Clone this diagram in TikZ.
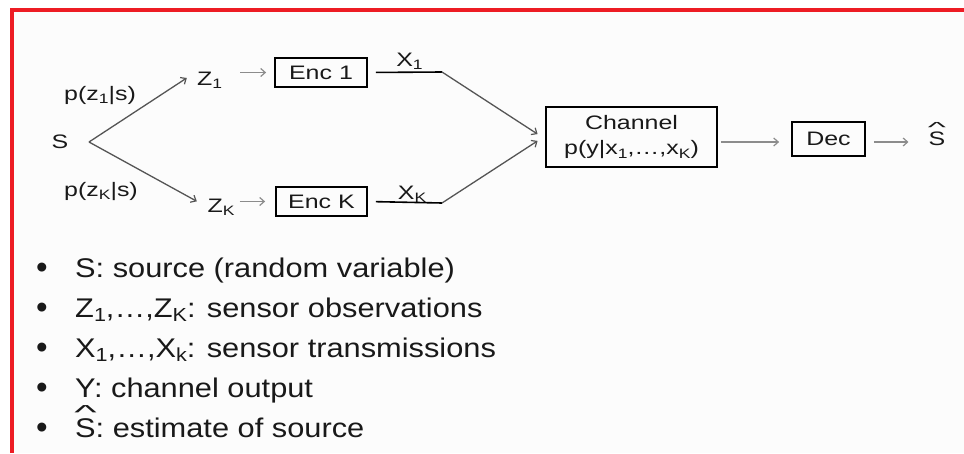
\documentclass[tikz,border=0pt]{standalone}
\usepackage{fontspec}
\setmainfont{Liberation Sans}
\usepackage{graphicx}
\usetikzlibrary{arrows.meta}

\definecolor{framered}{RGB}{237,28,36}
\definecolor{ink}{RGB}{25,25,25}
\definecolor{wire}{RGB}{85,85,85}
\definecolor{feed}{RGB}{140,140,140}
\definecolor{paper}{RGB}{252,252,252}

% widened lettering of the figure and of the list
\newcommand{\hsd}[1]{\scalebox{1.28}[1]{#1}}
\newcommand{\hsl}[1]{\scalebox{1.14}[1]{#1}}
% lowered small index
\newcommand{\lsub}[1]{\raisebox{-0.35ex}{\scalebox{0.7}{#1}}}
% S with a wide hat (estimate)
\newcommand{\hatS}{\makebox[0pt][l]{\hspace{-0.03em}\raisebox{0.66em}{\scalebox{1.55}[0.75]{\textasciicircum}}}S}

\begin{document}
\begin{tikzpicture}[x=1pt,y=-1pt,
  lbl/.style={inner sep=0pt, anchor=base, text=ink,
              font=\fontsize{19.5}{26}\selectfont},
  blk/.style={draw=black, line width=1.8pt, inner sep=0pt, text=ink,
              align=center, font=\fontsize{19.5}{26}\selectfont},
  item/.style={inner sep=0pt, anchor=base west, text=ink,
               font=\fontsize{27}{32}\selectfont},
  dot/.style={inner sep=0pt, anchor=base, text=ink,
              font=\fontsize{33}{34}\selectfont},
  tip/.style={-{Straight Barb[length=4.5pt,width=8pt,line width=1.2pt]}},
  branch/.style={tip, draw=wire, line width=1.3pt},
  feedarr/.style={tip, draw=feed, line width=1.8pt},
  link/.style={draw=black, line width=1.6pt},
  linkdiag/.style={tip, draw=wire, line width=1.3pt},
]
\useasboundingbox (0,0) rectangle (964,453);

% page and red frame
\fill[white] (0,0) rectangle (964,453);
\fill[paper] (12,10) rectangle (964,453);
\draw[framered, line width=3.5pt, line join=miter] (11.75,453) -- (11.75,9.75) -- (964,9.75);

% source and its two observations
\node[lbl] (s) at (60,148) {\hsd{S}};
\coordinate (fork) at (89,142);
\node[lbl] (p1) at (100,100) {\hsd{p(z\lsub{1}|s)}};
\node[lbl] (pk) at (101,196) {\hsd{p(z\lsub{K}|s)}};
\node[lbl] (z1) at (209.5,85) {\hsd{Z\lsub{1}}};
\node[lbl] (zk) at (221,212) {\hsd{Z\lsub{K}}};

% encoders
\node[blk, minimum width=92pt, minimum height=29pt] (e1) at (321,72.5) {\hsd{Enc 1}};
\node[blk, minimum width=91pt, minimum height=29pt] (ek) at (321.5,201.5) {\hsd{Enc K}};

% transmissions
\node[lbl] (x1) at (409.5,66) {\hsd{X\lsub{1}}};
\node[lbl] (xk) at (412,199) {\hsd{X\lsub{K}}};
\coordinate (b1) at (442,72);
\coordinate (bk) at (442,203);

% channel, decoder, estimate
\node[blk, minimum width=171pt, minimum height=60pt] (ch) at (631.5,137)
  {\hsd{Channel}\\[-1pt]\hsd{p(y|x\lsub{1},\dots,x\lsub{K})}};
\node[blk, minimum width=73pt, minimum height=34pt] (dec) at (828.5,139) {\hsd{Dec}};
\node[lbl] (shat) at (937,145) {\hsd{\hatS}};

% connectors
\draw[branch, shorten >=12pt] (fork) -- (z1.north west);
\draw[branch, shorten >=12pt] (fork) -- (zk.west);
\draw[feedarr, shorten <=18pt, shorten >=8pt] (z1.east |- e1.west) -- (e1.west);
\draw[feedarr, shorten <=5pt, shorten >=10pt] (zk.east |- ek.west) -- (ek.west);

\draw[link, shorten <=8pt] (e1.east) -- (b1);
\draw[link, shorten <=8pt] (ek.east) -- (bk);
\draw[linkdiag, shorten >=9pt] (b1) -- ([yshift=-2pt]ch.west);
\draw[linkdiag, shorten >=9pt] (bk) -- ([yshift=1pt]ch.west);

\draw[feedarr, shorten <=3pt, shorten >=12pt] (ch.east |- 0,142) -- (dec.west |- 0,142);
\draw[feedarr, shorten <=8pt, shorten >=20pt] (dec.east |- 0,142) -- (shat.west |- 0,142);

% list of symbols
\foreach \yb/\name in {277/l1,317/l2,357/l3,397/l4,437/l5}
  \node[dot] (b\name) at (42,\yb+1.5) {•};
\node[item] (l1) at (75,277) {\hsl{S: source (random variable)}};
\node[item] (l2) at (75,317) {\hsl{Z\lsub{1},…,Z\lsub{K}: sensor observations}};
\node[item] (l3) at (75,357) {\hsl{X\lsub{1},…,X\lsub{k}: sensor transmissions}};
\node[item] (l4) at (75,397) {\hsl{Y: channel output}};
\node[item] (l5) at (75,437) {\hsl{\hatS: estimate of source}};
\end{tikzpicture}
\end{document}
